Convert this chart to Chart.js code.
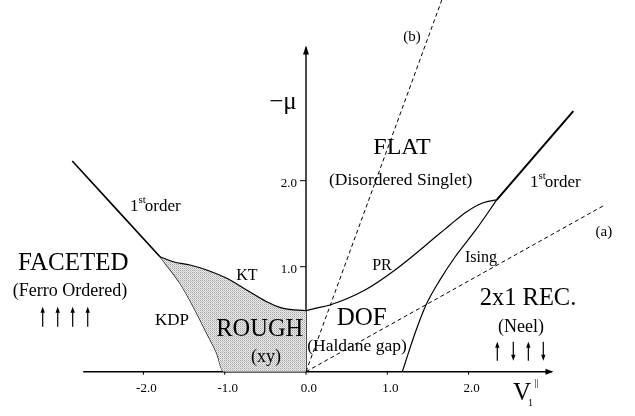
<!DOCTYPE html>
<html>
<head>
<meta charset="utf-8">
<script src="https://cdn.jsdelivr.net/npm/chart.js@4/dist/chart.umd.min.js"></script>
<style>
body { margin:0; background:#fff; }
#chart { display:block; }
</style>
</head>
<body>
<canvas id="chart" width="635" height="416"></canvas>
<script>
// phase diagram: V1|| horizontal, -mu vertical
const axisY = -0.221;
const xAxisEnds = [-2.74, 3.02];
const yAxisTop = 3.55;
const xTicks = [-2.0, -1.0, 0.0, 1.0, 2.0];
const yTicks = [1.0, 2.0];

const firstOrderLeft = [[-2.875, 2.229], [-1.796, 1.116]];
const ktLine = [[-1.796, 1.116], [-1.632, 1.058], [-1.427, 1.02], [-1.221, 0.962], [-0.975, 0.865],
                [-0.729, 0.729], [-0.483, 0.593], [-0.279, 0.516], [0, 0.488]];
const kdpLine = [[-1.796, 1.116], [-1.55, 0.807], [-1.386, 0.535], [-1.221, 0.226], [-1.098, -0.007],
                 [-1.017, -0.221], [0, -0.221]];
const prLine = [[0, 0.488], [0.111, 0.516], [0.295, 0.555], [0.726, 0.729], [1.095, 0.962],
                [1.648, 1.388], [1.771, 1.485], [1.977, 1.64], [2.181, 1.744], [2.346, 1.776]];
const isingLine = [[1.185, -0.221], [1.341, 0.226], [1.476, 0.555], [1.65, 0.85], [1.833, 1.113],
                   [2.09, 1.43], [2.346, 1.776]];
const firstOrderRight = [[2.346, 1.776], [3.288, 2.81]];
const dashA = [[0, -0.221], [3.68, 1.72]];
const dashB = [[0, -0.221], [1.73, 4.255]];

const ferroX = [-3.239, -3.054, -2.87, -2.685];
const ferroDir = [1, 1, 1, 1];
const ferroY = [0.302, 0.535];
const neelX = [2.353, 2.55, 2.735, 2.919];
const neelDir = [1, -1, 1, -1];
const neelY = [-0.093, 0.128];

const labels = [
    {t:'\u2212\u03bc', x:-0.283, y:2.915, s:25},
    {t:'(b)', x:1.304, y:3.671, s:15},
    {t:'FLAT', x:1.181, y:2.38, s:24},
    {t:'(Disordered Singlet)', x:1.165, y:2.0, s:17.5},
    {t:'(a)', x:3.665, y:1.403, s:15},
    {t:'FACETED', x:-2.862, y:1.043, s:25},
    {t:'(Ferro Ordered)', x:-2.903, y:0.709, s:18},
    {t:'KT', x:-0.726, y:0.892, s:16},
    {t:'KDP', x:-1.648, y:0.369, s:17},
    {t:'ROUGH', x:-0.569, y:0.27, s:24.5},
    {t:'(xy)', x:-0.492, y:-0.05, s:18},
    {t:'DOF', x:0.685, y:0.403, s:25},
    {t:'(Haldane gap)', x:0.627, y:0.07, s:17.5},
    {t:'PR', x:0.935, y:1.008, s:16},
    {t:'Ising', x:2.153, y:1.101, s:16},
    {t:'2x1 REC.', x:2.731, y:0.624, s:24.5},
    {t:'(Neel)', x:2.645, y:0.299, s:18}
];
const orderLabels = [[-2.165, 1.648], [2.755, 1.927]];

const FONT = "'Liberation Serif', 'Times New Roman', serif";

function pts(a) { return a.map(p => ({x: p[0], y: p[1]})); }

// stipple for the rough phase
const pc = document.createElement('canvas');
pc.width = 2; pc.height = 2;
const pctx = pc.getContext('2d');
pctx.fillStyle = '#ececec'; pctx.fillRect(0, 0, 2, 2);
pctx.fillStyle = '#a4a4a4'; pctx.fillRect(0, 0, 1, 1);
pctx.fillStyle = '#c6c6c6'; pctx.fillRect(1, 1, 1, 1);
const stipple = pctx.createPattern(pc, 'repeat');

function line(data, w, extra) {
    return Object.assign({
        data: pts(data), showLine: true, borderColor: '#000', borderWidth: w,
        pointRadius: 0, fill: false, cubicInterpolationMode: 'monotone'
    }, extra || {});
}

const decor = {
    id: 'decor',
    afterDraw(chart) {
        const c = chart.ctx, sx = chart.scales.x, sy = chart.scales.y;
        const X = v => sx.getPixelForValue(v), Y = v => sy.getPixelForValue(v);
        const y0 = Y(axisY), x0 = X(0);
        c.save();
        c.fillStyle = '#000'; c.strokeStyle = '#000';

        // arrow heads on axes
        const xe = X(xAxisEnds[1]), yt = Y(yAxisTop);
        c.beginPath(); c.moveTo(xe + 2, y0); c.lineTo(xe - 6, y0 - 3); c.lineTo(xe - 6, y0 + 3); c.closePath(); c.fill();
        c.beginPath(); c.moveTo(x0, yt - 2); c.lineTo(x0 - 3, yt + 7); c.lineTo(x0 + 3, yt + 7); c.closePath(); c.fill();

        // ticks
        c.lineWidth = 1;
        c.font = '13px ' + FONT;
        c.textBaseline = 'middle';
        xTicks.forEach(v => {
            c.beginPath(); c.moveTo(X(v), y0); c.lineTo(X(v), y0 + 3); c.stroke();
            c.textAlign = 'center';
            c.fillText(v.toFixed(1), X(v) + 3, y0 + 17);
        });
        yTicks.forEach(v => {
            c.beginPath(); c.moveTo(x0 - 6, Y(v)); c.lineTo(x0, Y(v)); c.stroke();
            c.textAlign = 'right';
            c.fillText(v.toFixed(1), x0 - 9, Y(v) + 3);
        });

        // region and line labels
        c.textAlign = 'center';
        labels.forEach(l => {
            c.font = l.s + 'px ' + FONT;
            c.fillText(l.t, X(l.x), Y(l.y));
        });

        // 1st order
        c.textBaseline = 'alphabetic';
        c.textAlign = 'left';
        orderLabels.forEach(p => {
            let px = X(p[0]), py = Y(p[1]);
            c.font = '17px ' + FONT;
            c.fillText('1', px, py);
            px += c.measureText('1').width;
            c.font = '11px ' + FONT;
            c.fillText('st', px, py - 8);
            px += c.measureText('st').width - 1;
            c.font = '17px ' + FONT;
            c.fillText('order', px, py);
        });

        // axis title V1||
        const vx = X(2.657), vy = Y(-0.469);
        c.textAlign = 'center'; c.textBaseline = 'middle';
        c.font = '25px ' + FONT;
        c.fillText('V', vx, vy);
        c.font = '10px ' + FONT;
        c.fillText('1', vx + 8.5, vy + 10);
        c.fillText('||', vx + 14.5, vy - 10);

        // spin arrows
        function spin(x, dir, ys) {
            const px = X(x), a = Y(ys[0]), b = Y(ys[1]);
            const tip = dir > 0 ? b : a, tail = dir > 0 ? a : b;
            const h = dir > 0 ? 6 : -6;
            c.lineWidth = 1.2;
            c.beginPath(); c.moveTo(px, tail); c.lineTo(px, tip + h * 0.5); c.stroke();
            c.beginPath(); c.moveTo(px, tip); c.lineTo(px - 2.2, tip + h); c.lineTo(px + 2.2, tip + h); c.closePath(); c.fill();
        }
        ferroX.forEach((x, i) => spin(x, ferroDir[i], ferroY));
        neelX.forEach((x, i) => spin(x, neelDir[i], neelY));
        c.restore();
    }
};

new Chart(document.getElementById('chart'), {
    type: 'scatter',
    data: {
        datasets: [
            line(ktLine, 1.2, {fill: {target: 1}, backgroundColor: stipple}),
            line(kdpLine, 1.2),
            line(prLine, 1.2),
            line(isingLine, 1.2),
            line(firstOrderLeft, 1.6),
            line(firstOrderRight, 2),
            line(dashA, 1, {borderDash: [4, 3]}),
            line(dashB, 1, {borderDash: [4, 3]}),
            line([[xAxisEnds[0], axisY], [xAxisEnds[1], axisY]], 1.6),
            line([[0, axisY], [0, yAxisTop]], 1.4)
        ]
    },
    options: {
        responsive: false,
        animation: false,
        devicePixelRatio: 1,
        layout: { padding: 0 },
        plugins: { legend: { display: false }, tooltip: { enabled: false } },
        scales: {
            x: { type: 'linear', min: -3.764, max: 4.047, display: false },
            y: { type: 'linear', min: -0.736, max: 4.101, display: false }
        }
    },
    plugins: [decor]
});
</script>
</body>
</html>
